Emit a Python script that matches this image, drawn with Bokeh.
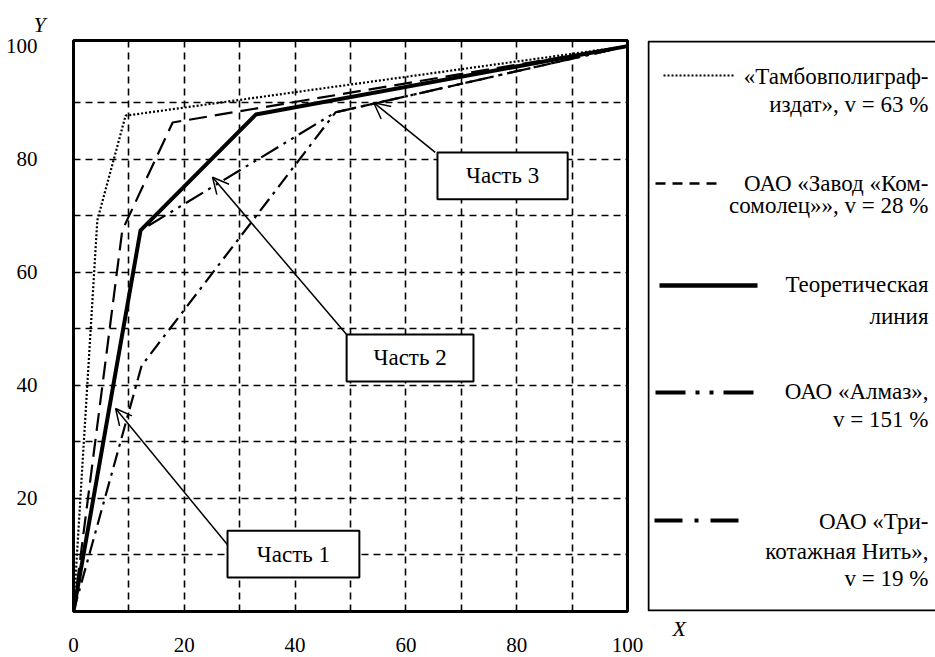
from bokeh.plotting import figure
from bokeh.layouts import row
from bokeh.models import Range1d, FixedTicker, Arrow, OpenHead, Title
from bokeh.embed import file_html
from bokeh.resources import INLINE
from bokeh.core.properties import value

# ---------------- data ----------------
x_tick_values = [0, 20, 40, 60, 80, 100]
y_tick_values = [20, 40, 60, 80, 100]
grid_values = [10, 20, 30, 40, 50, 60, 70, 80, 90]

tambov_x = [0, 4.3, 9.4, 100]
tambov_y = [0, 69.2, 87.7, 100]
komsomolets_x = [0, 8.8, 17.9, 100]
komsomolets_y = [0, 67.4, 86.5, 100]
theory_x = [0, 12.1, 32.9, 100]
theory_y = [0, 67.4, 87.9, 100]
almaz_x = [0, 12.1, 47.3, 100]
almaz_y = [0, 67.4, 88.3, 100]
trikotazh_x = [0, 12.3, 47.3, 100]
trikotazh_y = [0, 43.5, 88.3, 100]

legend_labels = [
    ["«Тамбовполиграф-", "издат», v = 63 %"],
    ["ОАО «Завод «Ком-", "сомолец»», v = 28 %"],
    ["Теоретическая", "линия"],
    ["ОАО «Алмаз»,", "v = 151 %"],
    ["ОАО «Три-", "котажная Нить»,", "v = 19 %"],
]

part_labels = ["Часть 1", "Часть 2", "Часть 3"]

# ---------------- layout constants ----------------
SERIF = "Liberation Serif, Times New Roman, DejaVu Serif, serif"
# annotation boxes (data units): left, right, bottom, top
boxes = [(27.8, 51.6, 6.0, 14.3), (49.3, 72.2, 40.7, 49.0), (65.7, 89.2, 72.9, 81.2)]
# arrows: tail -> head (data units)
arrows = [((27.8, 11.8), (7.6, 35.9)), ((49.3, 49.0), (25.1, 76.8)), ((65.3, 81.2), (54.2, 90.0))]

H = 657
TOP = 40
BOTTOM = 46

p = figure(width=647, height=H, x_range=Range1d(0, 100), y_range=Range1d(0, 101),
           output_backend="svg", toolbar_location=None,
           min_border_left=73, min_border_right=20, min_border_top=TOP, min_border_bottom=BOTTOM)
p.background_fill_color = "white"
p.border_fill_color = "white"
p.outline_line_color = "black"
p.outline_line_width = 3
p.outline_line_alpha = 1

p.title = Title(text="Y", align="left", offset=-40, standoff=8, text_font=SERIF,
                text_font_size="22px", text_font_style="italic", text_color="black")

for ax in (p.xaxis[0], p.yaxis[0]):
    ax.axis_line_color = None
    ax.major_tick_line_color = None
    ax.minor_tick_line_color = None
    ax.major_label_text_font = SERIF
    ax.major_label_text_font_size = "21px"
    ax.major_label_text_color = "black"
p.xaxis.ticker = FixedTicker(ticks=x_tick_values)
p.yaxis.ticker = FixedTicker(ticks=y_tick_values)
p.xaxis.major_label_standoff = 20
p.yaxis.major_label_standoff = 30

p.xgrid.ticker = FixedTicker(ticks=grid_values)
p.ygrid.ticker = FixedTicker(ticks=grid_values)
for g in (p.xgrid[0], p.ygrid[0]):
    g.grid_line_color = "black"
    g.grid_line_width = 1.6
    g.grid_line_dash = "7 5"
    g.grid_line_alpha = 1

p.line(tambov_x, tambov_y, line_color="black", line_width=2.2, line_dash="2 2")
p.line(komsomolets_x, komsomolets_y, line_color="black", line_width=2.2, line_dash="18 8")
p.line(almaz_x, almaz_y, line_color="black", line_width=2.2, line_dash="20 6 3 6 3 6")
p.line(trikotazh_x, trikotazh_y, line_color="black", line_width=2.2, line_dash="15 6 3 6")
p.line(theory_x, theory_y, line_color="black", line_width=4)

for (tx, ty), (hx, hy) in arrows:
    p.add_layout(Arrow(x_start=tx, y_start=ty, x_end=hx, y_end=hy, line_width=1.5, line_color="black",
                       end=OpenHead(size=16, line_width=1.5, line_color="black")))

p.quad(left=[b[0] for b in boxes], right=[b[1] for b in boxes],
       bottom=[b[2] for b in boxes], top=[b[3] for b in boxes],
       fill_color="white", line_color="black", line_width=2)
p.text(x=[(b[0] + b[1]) / 2 for b in boxes], y=[(b[2] + b[3]) / 2 for b in boxes], text=part_labels,
       text_font=value(SERIF), text_font_size="23px", text_align="center", text_baseline="middle",
       text_color="black")

# ---------------- legend panel (page pixel coordinates) ----------------
q = figure(width=288, height=H, x_range=Range1d(647, 935), y_range=Range1d(611, 40),
           output_backend="svg", toolbar_location=None, x_axis_type=None, y_axis_type=None,
           min_border_left=0, min_border_right=0, min_border_top=TOP, min_border_bottom=BOTTOM)
q.grid.visible = False
q.outline_line_color = None
q.background_fill_color = "white"
q.border_fill_color = "white"
q.add_layout(Title(text="X", align="left", offset=25, standoff=4, vertical_align="bottom",
                   text_font=SERIF, text_font_size="22px", text_font_style="italic",
                   text_color="black"), "below")

q.line([960, 648, 648, 960], [41, 41, 610, 610], line_color="black", line_width=2)

samples = [
    (663, 735, 75, 2, "2 2"),
    (655, 718, 183, 2.5, "10 7"),
    (659, 757, 285, 4.5, "solid"),
    (655, 760, 392, 4, "30 10 4 10 4 10"),
    (654, 746, 520, 4, "28 12 4 12"),
]
for x0, x1, yy, lw, dash in samples:
    q.line([x0, x1], [yy, yy], line_color="black", line_width=lw, line_dash=dash)

baselines = [[76, 104], [183, 205], [284, 316], [391, 419], [521, 551, 578]]
for lines, bls in zip(legend_labels, baselines):
    q.text(x=[928] * len(lines), y=bls, text=lines, text_font=value(SERIF), text_font_size="23px",
           text_align="right", text_baseline="alphabetic", text_color="black")

layout = row(p, q)
open("out.html", "w").write(file_html(layout, INLINE))
